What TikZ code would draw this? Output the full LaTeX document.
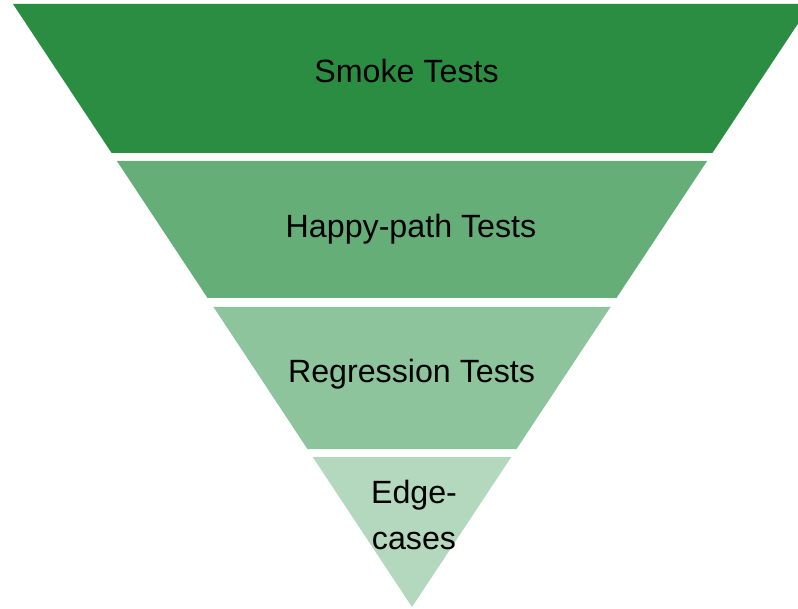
\documentclass[tikz,border=0pt]{standalone}
\usepackage{fontspec}
\setmainfont{Liberation Sans}
\definecolor{smoke-green}{HTML}{2A8D41}
\definecolor{happy-green}{HTML}{66AE78}
\definecolor{regr-green}{HTML}{8DC49C}
\definecolor{edge-green}{HTML}{B3D8BD}
\begin{document}
\begin{tikzpicture}[x=1pt, y=-1pt, font=\fontsize{32.2}{46}\selectfont,
  text only/.style={inner sep=0pt, align=center, text=black}]
\pgfmathsetmacro{\apexx}{412}
\pgfmathsetmacro{\apexy}{607}
\pgfmathsetmacro{\slope}{399/603}
\useasboundingbox (0,0) rectangle (798,609);
\clip (0,0) rectangle (798,609);
% funnel bands, all cut from one triangle
\foreach \ytop/\ybot/\bandcolor in {
    4/153/smoke-green,
    161/298/happy-green,
    307/449/regr-green,
    457/607/edge-green} {
  \pgfmathsetmacro{\wtop}{\slope*(\apexy-\ytop)}
  \pgfmathsetmacro{\wbot}{\slope*(\apexy-\ybot)}
  \fill[\bandcolor]
    (\apexx-\wtop, \ytop) -- (\apexx+\wtop, \ytop)
    -- (\apexx+\wbot, \ybot) -- (\apexx-\wbot, \ybot) -- cycle;
}
\node[text only, anchor=base]
  (smoke)
  at (406.5, 83)
  {Smoke Tests};
\node[text only, anchor=base]
  (happy)
  at (411, 238)
  {Happy-path Tests};
\node[text only, anchor=base]
  (regression)
  at (411.5, 383)
  {Regression Tests};
\node[text only]
  (edge)
  at (414, 515)
  {Edge-\\cases};
\end{tikzpicture}
\end{document}
